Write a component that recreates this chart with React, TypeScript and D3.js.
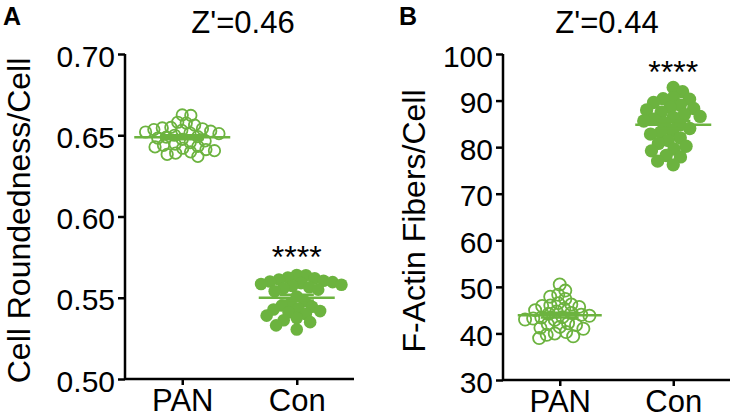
import React, { useEffect, useRef } from "react";
import * as d3 from "d3";

// groups on the x axis
const categories = ["PAN", "Con"];

// panel A: cell roundedness per cell
const roundTicks = [0.5, 0.55, 0.6, 0.65, 0.7];
const roundPAN = [
  0.6625, 0.6622, 0.658, 0.6575, 0.6562, 0.6548, 0.6545, 0.654, 0.6535, 0.653, 0.6525,
  0.652, 0.6515, 0.651, 0.65, 0.6492, 0.6488, 0.6482, 0.6475, 0.6465, 0.6455, 0.6445,
  0.6438, 0.6432, 0.6428, 0.642, 0.6412, 0.6405, 0.6398, 0.639, 0.6382, 0.637,
];
const roundCon = [
  0.564, 0.5638, 0.5625, 0.562, 0.5612, 0.5605, 0.56, 0.5596, 0.559, 0.5585, 0.558,
  0.5572, 0.5565, 0.5558, 0.555, 0.554, 0.5508, 0.5478, 0.5465, 0.5452, 0.5445, 0.5432,
  0.5428, 0.5418, 0.541, 0.54, 0.539, 0.5375, 0.5362, 0.535, 0.533, 0.5305,
];

// panel B: F-actin fibers per cell
const fiberTicks = [30, 40, 50, 60, 70, 80, 90, 100];
const fiberPAN = [
  50.5, 49.2, 48.3, 47.9, 47.4, 46.5, 46.2, 46.0, 45.9, 45.7, 45.3, 45.0, 44.7, 44.4,
  44.2, 44.0, 43.8, 43.5, 43.2, 42.9, 43.4, 43.0, 42.2, 42.0, 41.8, 41.4, 41.2, 41.0,
  40.3, 40.0, 39.7, 39.4, 39.0,
];
const fiberCon = [
  92.8, 91.9, 90.6, 90.4, 90.3, 89.6, 89.0, 88.5, 88.3, 88.0, 87.5, 87.0, 86.6, 86.4,
  86.0, 85.6, 85.2, 84.8, 84.0, 83.4, 83.2, 82.8, 82.0, 81.4, 80.8, 80.2, 79.6, 79.2,
  78.2, 77.9, 77.0, 76.2,
];

const GREEN = "#6cb33f";
const FONT = "'Liberation Sans', Arial, Helvetica, sans-serif";

const panels = [
  {
    letter: "A", letterX: 3, title: "Z'=0.46", titleX: 243,
    yLabel: "Cell Roundedness/Cell", yLabelX: 30,
    left: 125, right: 354, top: 54, bottom: 379,
    domain: [0.5, 0.7], ticks: roundTicks, fmt: d3.format(".2f"),
    groups: [roundPAN, roundCon], meanHalf: [48, 38], gap: [8.6, 9.2], r: 6.3,
    starY: 268,
  },
  {
    letter: "B", letterX: 399, title: "Z'=0.44", titleX: 607,
    yLabel: "F-Actin Fibers/Cell", yLabelX: 425,
    left: 503, right: 730, top: 54, bottom: 380,
    domain: [30, 100], ticks: fiberTicks, fmt: d3.format("d"),
    groups: [fiberPAN, fiberCon], meanHalf: [42, 38], gap: [8.2, 10.2], r: 6.7,
    starY: 83,
  },
];

// simple beeswarm: put each point as close to the centre as it can go
function swarm(values: number[], y: (v: number) => number, d: number) {
  const pts = values.map((v) => ({ v, y: y(v), x: 0 })).sort((a, b) => a.y - b.y);
  const placed: { x: number; y: number }[] = [];
  pts.forEach((p) => {
    const cand = [0];
    placed.forEach((q) => {
      const dy = p.y - q.y;
      if (Math.abs(dy) < d) {
        const dx = Math.sqrt(d * d - dy * dy);
        cand.push(q.x + dx, q.x - dx);
      }
    });
    cand.sort((a, b) => Math.abs(a) - Math.abs(b));
    for (const c of cand) {
      const ok = placed.every((q) => (c - q.x) ** 2 + (p.y - q.y) ** 2 >= d * d - 0.01);
      if (ok) {
        p.x = c;
        break;
      }
    }
    placed.push(p);
  });
  return pts;
}

function App() {
  const ref = useRef<SVGSVGElement>(null);

  useEffect(() => {
    const svg = d3.select(ref.current);
    svg.selectAll("*").remove();

    panels.forEach((pn) => {
      const g = svg.append("g");
      const y = d3.scaleLinear().domain(pn.domain).range([pn.bottom, pn.top]);
      const x = d3.scalePoint().domain(categories).range([pn.left, pn.right]).padding(0.5);

      // panel letter and title
      g.append("text").attr("x", pn.letterX).attr("y", 25)
        .attr("font-size", 25).attr("font-weight", "bold").text(pn.letter);
      g.append("text").attr("x", pn.titleX).attr("y", 33)
        .attr("text-anchor", "middle").attr("font-size", 31).text(pn.title);

      // y axis
      const ya = g.append("g").attr("transform", `translate(${pn.left},0)`)
        .call(d3.axisLeft(y).tickValues(pn.ticks).tickFormat(pn.fmt as any).tickSize(7).tickPadding(3));
      ya.select(".domain").attr("stroke-width", 2.5).attr("d", `M0,${pn.bottom}V${pn.top}`);
      ya.selectAll(".tick line").attr("stroke-width", 2.5);
      ya.selectAll(".tick text").attr("font-size", 30).attr("font-family", FONT).attr("dy", "0.4em");

      // x axis
      const xa = g.append("g").attr("transform", `translate(0,${pn.bottom})`)
        .call(d3.axisBottom(x).tickSize(6).tickPadding(4));
      xa.select(".domain").attr("stroke-width", 2.5).attr("d", `M${pn.left},0H${pn.right}`);
      xa.selectAll(".tick line").attr("stroke-width", 2.5);
      xa.selectAll(".tick text").attr("font-size", 31).attr("font-family", FONT)
        .attr("y", 32).attr("dy", 0);

      // y axis title
      g.append("text")
        .attr("transform", `translate(${pn.yLabelX},${(pn.top + pn.bottom) / 2 + 4}) rotate(-90)`)
        .attr("text-anchor", "middle").attr("font-size", 32).text(pn.yLabel);

      // points
      pn.groups.forEach((vals, i) => {
        const cx = x(categories[i]) as number;
        const pts = swarm(vals, y, pn.gap[i]);
        g.append("g").selectAll("circle").data(pts).join("circle")
          .attr("cx", (d) => cx + d.x).attr("cy", (d) => d.y).attr("r", i === 0 ? pn.r - 0.6 : pn.r)
          .attr("fill", i === 0 ? "none" : GREEN)
          .attr("stroke", GREEN).attr("stroke-width", i === 0 ? 1.8 : 0);

        const m = d3.mean(vals) as number;
        const sem = (d3.deviation(vals) as number) / Math.sqrt(vals.length);
        const hw = pn.meanHalf[i];
        const cap = hw * 0.45;
        const eb = g.append("g").attr("stroke", GREEN).attr("stroke-width", 2.5);
        eb.append("line").attr("x1", cx - hw).attr("x2", cx + hw).attr("y1", y(m)).attr("y2", y(m));
        eb.append("line").attr("x1", cx).attr("x2", cx).attr("y1", y(m - sem)).attr("y2", y(m + sem));
        [m - sem, m + sem].forEach((v) => {
          eb.append("line").attr("x1", cx - cap).attr("x2", cx + cap).attr("y1", y(v)).attr("y2", y(v));
        });
      });

      // significance stars over Con
      g.append("text").attr("x", x("Con") as number).attr("y", pn.starY)
        .attr("text-anchor", "middle").attr("font-size", 32).text("****");
    });
  }, []);

  return (
    <div style={{ position: "fixed", left: 0, top: 0 }}>
      <svg ref={ref} width={734} height={418} style={{ display: "block", background: "#fff" }}
        fontFamily={FONT} />
    </div>
  );
}

export default App;
